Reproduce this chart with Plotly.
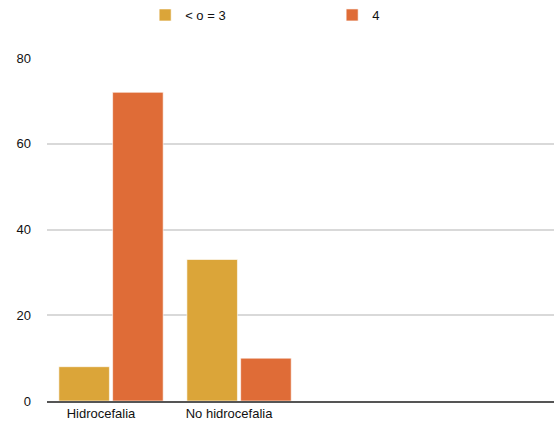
import plotly.graph_objects as go

categories = ["Hidrocefalia", "No hidrocefalia"]
series_names = ["< o = 3", "4"]
low_values = [8, 33]
high_values = [72, 10]
y_ticks = [0, 20, 40, 60, 80]

colors = ["#DBA539", "#DF6C37"]

fig = go.Figure()
for name, vals, col in zip(series_names, [low_values, high_values], colors):
    fig.add_trace(go.Bar(
        x=categories, y=vals, name=name,
        marker=dict(color=col, line=dict(color="rgba(255,255,255,0.6)", width=1)),
    ))

fig.update_layout(
    width=554, height=423,
    margin=dict(l=47, r=0, t=58, b=22),
    paper_bgcolor="white", plot_bgcolor="white",
    font=dict(family="Liberation Sans, Arial, sans-serif", size=13, color="#111111"),
    barmode="group", bargap=0.16, bargroupgap=0.06,
    showlegend=True,
    legend=dict(orientation="h", x=0.262, xref="container", y=1.0, yref="container",
                yanchor="top", xanchor="left",
                entrywidth=142, entrywidthmode="pixels",
                font=dict(size=13), traceorder="normal"),
    xaxis=dict(type="category", range=[-0.5, 3.46], showgrid=False,
               showline=True, linecolor="#555555", linewidth=1.5,
               ticks="", ticklabelshift=-10, tickfont=dict(size=13)),
    yaxis=dict(range=[0, 80], tickvals=y_ticks, showgrid=True,
               gridcolor="#D9D9D9", gridwidth=1.5, zeroline=False,
               showline=False, ticks="", ticklabelstandoff=15,
               tickfont=dict(size=13)),
)

fig.write_html("out.html")
